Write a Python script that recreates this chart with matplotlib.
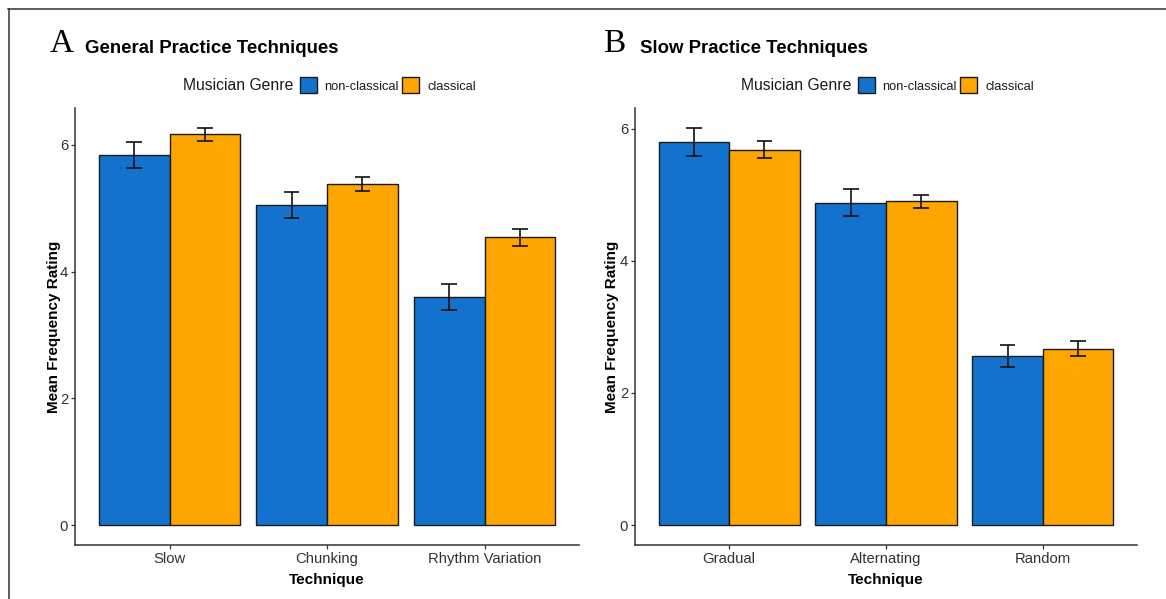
import matplotlib
matplotlib.use("Agg")
import matplotlib.pyplot as plt
from matplotlib.patches import Rectangle
from matplotlib.lines import Line2D
import numpy as np

plt.rcParams['font.family'] = ['Liberation Sans', 'DejaVu Sans']

# ---- data ----
general_techniques = ["Slow", "Chunking", "Rhythm Variation"]
general_nonclassical = [5.84, 5.05, 3.60]
general_nonclassical_se = [0.21, 0.20, 0.21]
general_classical = [6.17, 5.38, 4.54]
general_classical_se = [0.10, 0.11, 0.13]

slow_techniques = ["Gradual", "Alternating", "Random"]
slow_nonclassical = [5.80, 4.88, 2.56]
slow_nonclassical_se = [0.21, 0.20, 0.17]
slow_classical = [5.68, 4.90, 2.67]
slow_classical_se = [0.13, 0.10, 0.11]

genres = ["non-classical", "classical"]
genre_colors = ["#1372CD", "#FFA500"]
y_ticks = [0, 2, 4, 6]

W, H = 1166, 599
fig = plt.figure(figsize=(W / 100, H / 100), dpi=100)


def fx(px):
    return px / W


def fy(py):
    return 1 - py / H


def panel(rect_px, techniques, groups, ses, letter, title, title_x, letter_x,
          legend_x, ylabel_x):
    left, top, right, bottom = rect_px
    ax = fig.add_axes([fx(left), fy(bottom), fx(right - left), (bottom - top) / H])
    x = np.arange(1, len(techniques) + 1)
    bw = 0.45
    offsets = [-bw / 2, bw / 2]
    ymax = 0
    for vals, err, off, col in zip(groups, ses, offsets, genre_colors):
        xs = x + off
        ax.bar(xs, vals, width=bw, color=col, edgecolor="#1a1a1a", linewidth=1.0, zorder=2)
        lo = np.array(vals) - np.array(err)
        hi = np.array(vals) + np.array(err)
        ax.vlines(xs, lo, hi, color="#111111", linewidth=1.2, zorder=3)
        ax.hlines(lo, xs - 0.05, xs + 0.05, color="#111111", linewidth=1.2, zorder=3)
        ax.hlines(hi, xs - 0.05, xs + 0.05, color="#111111", linewidth=1.2, zorder=3)
        ymax = max(ymax, hi.max())
    pad = 0.05 * ymax
    ax.set_ylim(-pad, ymax + pad)
    ax.set_xlim(0.4, len(techniques) + 0.6)
    ax.set_xticks(x)
    ax.set_xticklabels(techniques)
    ax.set_yticks(y_ticks)
    for s in ["top", "right"]:
        ax.spines[s].set_visible(False)
    for s in ["left", "bottom"]:
        ax.spines[s].set_color("#333333")
        ax.spines[s].set_linewidth(1.1)
    ax.tick_params(axis="both", length=3, width=0.9, color="#333333",
                   labelcolor="#333333", labelsize=10.7, pad=2)
    ax.set_xlabel("Technique", fontsize=11, fontweight="bold")
    ax.set_ylabel("Mean Frequency Rating", fontsize=11, fontweight="bold")
    ax.xaxis.set_label_coords(0.5, (bottom - 573) / (bottom - top))
    ax.yaxis.set_label_coords((ylabel_x - left) / (right - left), 0.5)

    # panel letter and title
    fig.text(fx(letter_x), fy(52), letter, family="Liberation Serif", fontsize=24,
             va="baseline", ha="left")
    fig.text(fx(title_x), fy(53), title, fontsize=13.4, fontweight="bold",
             va="baseline", ha="left")

    # legend row
    ly = 85
    fig.text(fx(legend_x), fy(ly), "Musician Genre", fontsize=11.3, va="center",
             ha="left", color="#1a1a1a")
    key_offsets = [117, 219]
    text_offsets = [141, 245]
    for name, col, ko, to in zip(genres, genre_colors, key_offsets, text_offsets):
        fig.patches.append(Rectangle((fx(legend_x + ko), fy(ly + 8)), 17 / W, 16 / H,
                                     transform=fig.transFigure, facecolor=col,
                                     edgecolor="#1a1a1a", linewidth=1.0))
        fig.text(fx(legend_x + to), fy(ly + 1.5), name, fontsize=9.3, va="center",
                 ha="left", color="#1a1a1a")
    return ax


panel((75, 108, 579, 545), general_techniques,
      [general_nonclassical, general_classical],
      [general_nonclassical_se, general_classical_se],
      "A", "General Practice Techniques", 85, 50, 183, 61)
panel((635, 108, 1137, 545), slow_techniques,
      [slow_nonclassical, slow_classical],
      [slow_nonclassical_se, slow_classical_se],
      "B", "Slow Practice Techniques", 640, 603, 741, 619)

# outer frame (left and top edges)
fig.add_artist(Line2D([fx(8.5), fx(8.5)], [fy(9), 0], transform=fig.transFigure,
                      color="#333333", linewidth=1.1))
fig.add_artist(Line2D([fx(8), 1], [fy(9), fy(9)], transform=fig.transFigure,
                      color="#333333", linewidth=1.1))

fig.savefig("out.png", dpi=100, facecolor="white")
